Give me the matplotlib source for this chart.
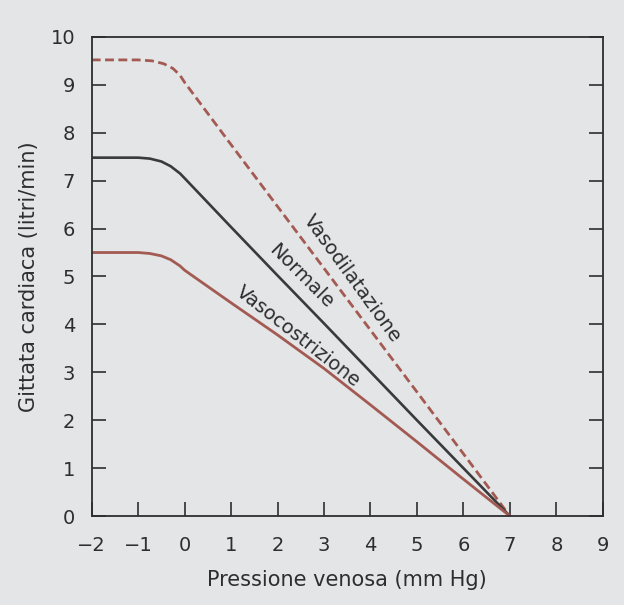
import matplotlib
matplotlib.use("Agg")
import matplotlib.pyplot as plt

# pressione venosa (mm Hg) / gittata cardiaca (litri/min)
x_dil = [-2, -1, -0.7, -0.45, -0.25, -0.1, 0, 1, 2, 3, 4, 5, 6, 7]
y_dil = [9.52, 9.52, 9.5, 9.44, 9.34, 9.2, 9.05, 7.75, 6.46, 5.17, 3.88, 2.59, 1.3, 0]

x_norm = [-2, -1, -0.75, -0.5, -0.3, -0.1, 0, 1, 2, 3, 4, 5, 6, 7]
y_norm = [7.48, 7.48, 7.46, 7.4, 7.3, 7.15, 7.05, 6.03, 5.02, 4.02, 3.01, 2.0, 1.0, 0]

x_cost = [-2, -1, -0.75, -0.5, -0.3, -0.1, 0, 1, 2, 3, 4, 5, 6, 7]
y_cost = [5.5, 5.5, 5.48, 5.43, 5.35, 5.22, 5.13, 4.45, 3.78, 3.08, 2.32, 1.55, 0.77, 0]

xticks = list(range(-2, 10))
yticks = list(range(0, 11))

bg = "#e4e5e7"
red = "#a35a52"
dark = "#3a3a3c"
txt = "#2e2e30"

plt.rcParams['font.family'] = ['DejaVu Sans']

fig = plt.figure(figsize=(6.24, 6.05), dpi=100, facecolor=bg)
ax = fig.add_axes([0.147, 0.147, 0.819, 0.792], facecolor=bg)

ax.plot(x_dil, y_dil, color=red, lw=2.0, ls=(0, (3.2, 1.6)))
ax.plot(x_norm, y_norm, color=dark, lw=1.9)
ax.plot(x_cost, y_cost, color=red, lw=2.0)

ax.set_xlim(-2, 9)
ax.set_ylim(0, 10)
ax.set_xticks(xticks)
ax.set_yticks(yticks)
ax.set_xticklabels([str(t).replace("-", "\u2212") for t in xticks])
ax.tick_params(direction="in", length=10, width=1.2, colors=txt,
               labelsize=14, right=True, top=False)
ax.tick_params(axis="x", pad=14)
ax.tick_params(axis="y", pad=12)
for s in ax.spines.values():
    s.set_color(txt)
    s.set_linewidth(1.3)

ax.set_xlabel("Pressione venosa (mm Hg)", fontsize=15, color=txt, labelpad=11)
ax.set_ylabel("Gittata cardiaca (litri/min)", fontsize=15, color=txt, labelpad=8)

ax.text(3.61, 4.96, "Vasodilatazione", rotation=-54, fontsize=14, color=txt,
        ha="center", va="center", rotation_mode="anchor")
ax.text(2.51, 5.0, "Normale", rotation=-45, fontsize=14, color=txt,
        ha="center", va="center", rotation_mode="anchor")
ax.text(2.44, 3.74, "Vasocostrizione", rotation=-38, fontsize=14, color=txt,
        ha="center", va="center", rotation_mode="anchor")

fig.savefig("out.png", dpi=100, facecolor=bg)
